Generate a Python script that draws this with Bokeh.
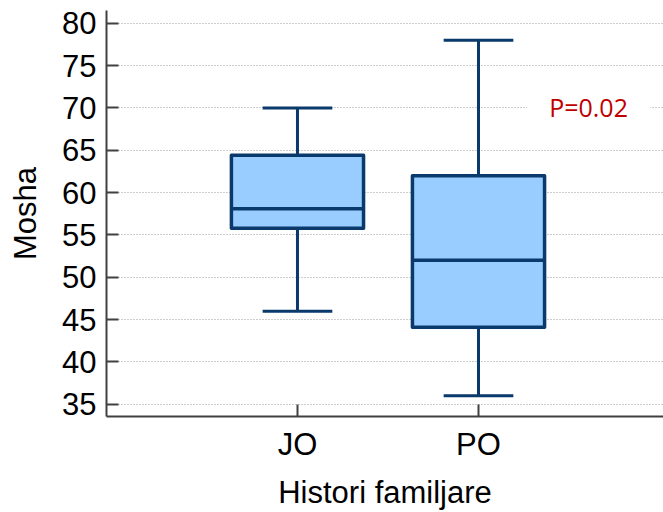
from bokeh.plotting import figure
from bokeh.models import FixedTicker, Label, ColumnDataSource
from bokeh.embed import file_html
from bokeh.resources import INLINE

groups = ["JO", "PO"]
positions = [1, 2]
whisker_low = [46, 36]
q1 = [55.8, 44.1]
median = [58.1, 52.0]
q3 = [64.4, 62.0]
whisker_high = [70, 78]
y_ticks = [35, 40, 45, 50, 55, 60, 65, 70, 75, 80]
p_text = "P=0.02"

BOX_W = 0.73
CAP_W = 0.385
LINE = "#0a3a6b"
FILL = "#99ccff"
FONT = "Liberation Sans"

src = ColumnDataSource(dict(
    x=positions,
    lo=whisker_low, q1=q1, med=median, q3=q3, hi=whisker_high,
    bl=[x - BOX_W / 2 for x in positions], br=[x + BOX_W / 2 for x in positions],
    cl=[x - CAP_W / 2 for x in positions], cr=[x + CAP_W / 2 for x in positions],
))

p = figure(width=663, height=512, output_backend="svg", toolbar_location=None,
           x_range=(-0.055, 3.022), y_range=(33.56, 81.5),
           min_border_left=106, min_border_right=0, min_border_top=10, min_border_bottom=94)
p.outline_line_color = None
p.background_fill_color = "white"
p.border_fill_color = "white"

# whiskers
p.segment(x0="x", y0="q3", x1="x", y1="hi", source=src, line_color=LINE, line_width=3)
p.segment(x0="x", y0="q1", x1="x", y1="lo", source=src, line_color=LINE, line_width=3)
p.segment(x0="cl", y0="hi", x1="cr", y1="hi", source=src, line_color=LINE, line_width=3)
p.segment(x0="cl", y0="lo", x1="cr", y1="lo", source=src, line_color=LINE, line_width=3)
# boxes
p.quad(left="bl", right="br", bottom="q1", top="q3", source=src,
       fill_color=FILL, line_color=LINE, line_width=3.5, line_join="round")
p.segment(x0="bl", y0="med", x1="br", y1="med", source=src, line_color=LINE, line_width=3.5)

# axes
p.xaxis.ticker = FixedTicker(ticks=positions)
p.xaxis.major_label_overrides = {pos: g for pos, g in zip(positions, groups)}
p.yaxis.ticker = FixedTicker(ticks=y_ticks)
for ax in (p.xaxis[0], p.yaxis[0]):
    ax.axis_line_color = "#404040"
    ax.axis_line_width = 2
    ax.major_tick_line_color = "#404040"
    ax.major_tick_line_width = 2
    ax.major_tick_in = 12
    ax.major_tick_out = 0
    ax.minor_tick_line_color = None
    ax.major_label_text_font = FONT
    ax.major_label_text_font_size = "31px"
    ax.major_label_text_color = "black"
    ax.axis_label_text_font = FONT
    ax.axis_label_text_font_size = "31px"
    ax.axis_label_text_font_style = "normal"
    ax.axis_label_text_color = "black"
p.yaxis.major_label_standoff = 10
p.xaxis.major_label_standoff = 10
p.xaxis.axis_label = "Histori familjare"
p.yaxis.axis_label = "Mosha"
p.xaxis.axis_label_standoff = 10
p.yaxis.axis_label_standoff = 16

p.xgrid.grid_line_color = None
p.ygrid.grid_line_color = "#9a9a9a"
p.ygrid.grid_line_dash = "1 2"
p.ygrid.grid_line_width = 1

lab = Label(x=2.608, y=70.1, text=p_text, text_align="center", text_baseline="alphabetic",
            text_color="#c00000", text_font="Open Sans", text_font_size="25px",
            background_fill_color="white", padding=22)
p.add_layout(lab)

open("out.html", "w").write(file_html(p, INLINE))
